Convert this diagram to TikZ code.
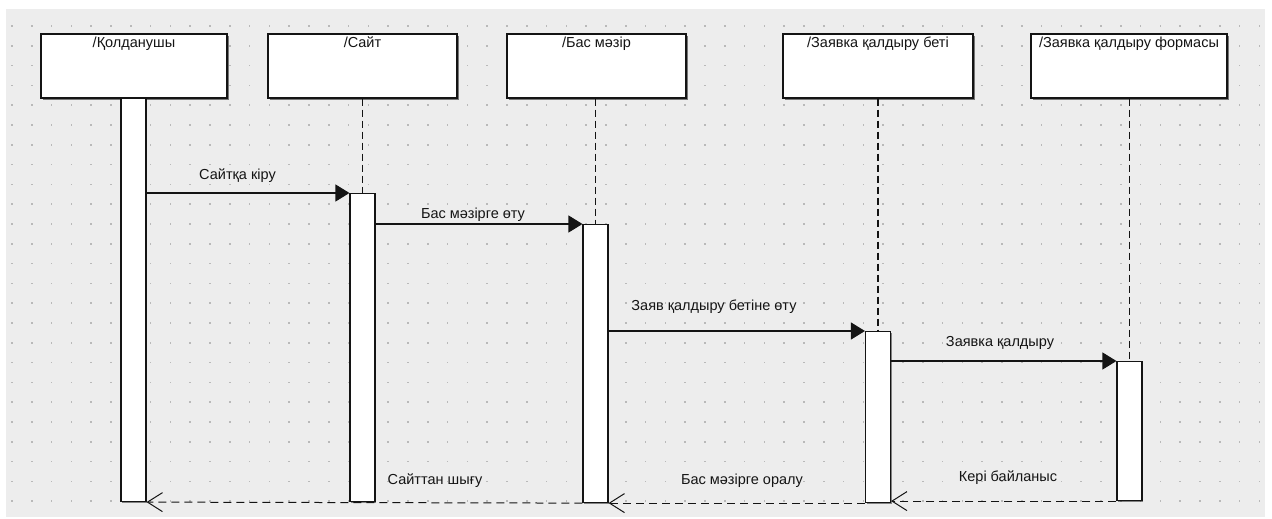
\documentclass[tikz,border=0pt]{standalone}
\usepackage{fontspec}
\setmainfont{Liberation Sans}
\usetikzlibrary{arrows.meta,shadows}
\definecolor{canvasgray}{RGB}{237,237,237}
\definecolor{gridgray}{RGB}{185,185,185}
\definecolor{ink}{RGB}{20,20,20}
\begin{document}
\begin{tikzpicture}[x=1pt,y=-1pt,
  every node/.style={font=\fontsize{14.5}{16}\selectfont, text=ink},
  headbox/.style={draw=ink, fill=white, line width=1.1pt, inner sep=0pt,
    minimum height=64pt,
    drop shadow={shadow xshift=1.6pt, shadow yshift=-1.6pt, fill=black, opacity=0.5}},
  actbar/.style={draw=ink, fill=white, line width=1.1pt, inner sep=0pt,
    minimum width=25pt, anchor=north,
    drop shadow={shadow xshift=1.4pt, shadow yshift=-1.4pt, fill=black, opacity=0.45}},
  lifeline/.style={draw=ink, line width=1.1pt, dash pattern=on 7pt off 4pt},
  msg/.style={draw=ink, line width=1.1pt, -{Triangle[length=14pt,width=17pt]}},
  reply/.style={draw=ink, line width=1pt, dash pattern=on 8pt off 5pt,
    -{Straight Barb[length=15pt,width=19pt,line width=1pt]}},
  msglabel/.style={anchor=base, inner sep=0pt}
]
\useasboundingbox (0,0) rectangle (1272,519);
% canvas with dotted grid
\fill[white] (0,0) rectangle (1272,519);
\fill[canvasgray] (6,9) rectangle (1265,517);
\foreach \i in {0,...,63}
  \foreach \j in {0,...,24}
    \fill[gridgray] ({12+19.8*\i-0.75},{26+19.8*\j-0.75}) rectangle ++(1.5,1.5);

% lifeline heads
\node[headbox, minimum width=186pt] (h1) at (134,66) {};
\node[headbox, minimum width=189pt] (h2) at (362.5,66) {};
\node[headbox, minimum width=179pt] (h3) at (596.5,66) {};
\node[headbox, minimum width=190pt] (h4) at (878,66) {};
\node[headbox, minimum width=196pt] (h5) at (1129,66) {};
\node[msglabel] (t1) at ([yshift=-14.5pt]h1.north) {/Қолданушы};
\node[msglabel] (t2) at ([yshift=-14.5pt]h2.north) {/Сайт};
\node[msglabel] (t3) at ([yshift=-14.5pt]h3.north) {/Бас мәзір};
\node[msglabel] (t4) at ([yshift=-14.5pt]h4.north) {/Заявка қалдыру беті};
\node[msglabel] (t5) at ([yshift=-14.5pt]h5.north) {/Заявка қалдыру формасы};

% activation bars
\node[actbar, minimum height=403pt] (a1) at (133.5,98) {};
\node[actbar, minimum height=308pt] (a2) at (362.5,193) {};
\node[actbar, minimum height=278pt] (a3) at (595.5,224) {};
\node[actbar, minimum height=171pt] (a4) at (878,331) {};
\node[actbar, minimum height=139pt] (a5) at (1129.5,361) {};

% lifelines
\draw[lifeline] (h2.south -| a2.north) -- (a2.north);
\draw[lifeline] (h3.south -| a3.north) -- (a3.north);
\draw[lifeline] (h4.south -| a4.north) -- (a4.north);
\draw[lifeline] (h5.south -| a5.north) -- (a5.north);

% calls
\draw[msg] (a1.east |- a2.north) -- (a2.north west);
\draw[msg] (a2.east |- a3.north) -- (a3.north west);
\draw[msg] (a3.east |- a4.north) -- (a4.north west);
\draw[msg] (a4.east |- a5.north) -- (a5.north west);
\node[msglabel] (m1) at (237.5,179) {Сайтқа кіру};
\node[msglabel] (m2) at (473,218) {Бас мәзірге өту};
\node[msglabel] (m3) at (714,310) {Заяв қалдыру бетіне өту};
\node[msglabel] (m4) at (1000,346) {Заявка қалдыру};

% returns
\draw[reply] (a3.south west) -- (a1.south east);
\draw[reply] (a4.south west) -- (a3.south east);
\draw[reply] (a5.south west) -- (a4.east |- a5.south);
\node[msglabel] (r1) at (435,484) {Сайттан шығу};
\node[msglabel] (r2) at (742,484) {Бас мәзірге оралу};
\node[msglabel] (r3) at (1008,481) {Кері байланыс};
\end{tikzpicture}
\end{document}
